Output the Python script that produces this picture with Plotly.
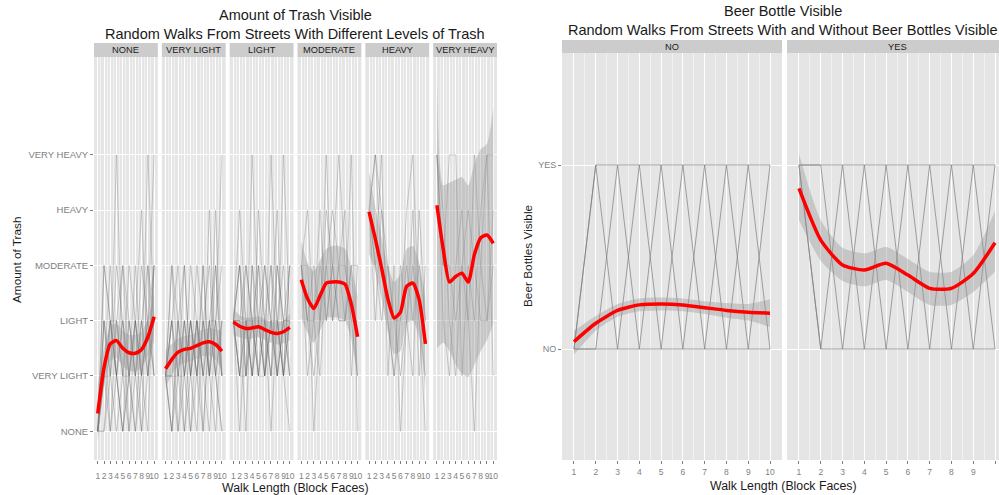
import plotly.graph_objects as go

W, H = 999, 495

# ---------------- data ----------------
steps = [1, 2, 3, 4, 5, 6, 7, 8, 9, 10]
trash_labels = ["NONE", "VERY LIGHT", "LIGHT", "MODERATE", "HEAVY", "VERY HEAVY"]
trash_values = [1, 2, 3, 4, 5, 6]
beer_labels = ["NO", "YES"]
beer_values = [1, 2]

# random walks (trash level at each block face), one list per facet
walks_none = [
    [1, 2, 3, 2, 4, 3, 2, 3, 2, 4], [1, 3, 2, 6, 2, 1, 3, 2, 6, 3],
    [1, 2, 1, 3, 2, 4, 3, 1, 2, 3], [1, 4, 3, 2, 3, 1, 2, 4, 3, 6],
    [1, 1, 2, 4, 3, 2, 1, 2, 3, 2], [1, 2, 4, 2, 1, 3, 2, 3, 4, 3],
    [1, 3, 1, 2, 3, 2, 4, 2, 1, 4], [1, 2, 3, 3, 2, 2, 3, 2, 3, 2],
    [1, 1, 3, 2, 1, 2, 1, 3, 2, 4], [1, 3, 2, 1, 2, 3, 2, 1, 4, 2],
    [1, 2, 2, 3, 4, 2, 3, 5, 2, 3], [1, 4, 3, 2, 1, 2, 3, 2, 3, 4],
]
walks_very_light = [
    [2, 3, 2, 4, 2, 3, 1, 3, 2, 3], [2, 1, 3, 2, 3, 2, 4, 2, 5, 2],
    [2, 3, 4, 2, 1, 3, 2, 3, 2, 1], [2, 2, 1, 3, 2, 4, 3, 2, 3, 6],
    [2, 4, 2, 1, 3, 2, 1, 3, 4, 2], [2, 1, 2, 3, 2, 1, 3, 2, 1, 3],
    [2, 3, 2, 2, 4, 3, 2, 5, 2, 3], [2, 2, 3, 1, 2, 3, 2, 1, 3, 2],
    [2, 4, 3, 2, 3, 2, 3, 4, 2, 1], [2, 1, 3, 4, 2, 3, 2, 3, 3, 2],
    [2, 3, 1, 2, 3, 2, 4, 2, 3, 4], [2, 2, 2, 3, 1, 2, 3, 2, 4, 2],
]
walks_light = [
    [3, 2, 4, 3, 2, 4, 3, 2, 3, 4], [3, 4, 2, 6, 3, 2, 6, 3, 2, 3],
    [3, 1, 3, 2, 4, 3, 2, 4, 3, 2], [3, 3, 2, 4, 3, 2, 3, 2, 6, 3],
    [3, 2, 3, 2, 5, 3, 2, 3, 2, 1], [3, 4, 3, 2, 3, 4, 3, 5, 2, 3],
    [3, 3, 4, 3, 2, 3, 1, 3, 4, 2], [3, 2, 2, 3, 4, 2, 3, 2, 3, 3],
    [3, 5, 3, 2, 3, 3, 4, 3, 2, 4], [3, 3, 1, 4, 2, 3, 2, 4, 3, 2],
    [3, 2, 3, 3, 2, 2, 4, 2, 3, 3], [3, 4, 2, 3, 3, 2, 3, 3, 2, 4],
]
walks_moderate = [
    [4, 3, 2, 3, 6, 3, 4, 5, 2, 4], [4, 3, 4, 3, 4, 5, 4, 3, 6, 1],
    [4, 5, 3, 2, 4, 3, 4, 4, 3, 2], [4, 2, 3, 4, 3, 4, 6, 4, 3, 3],
    [4, 4, 1, 3, 5, 4, 3, 3, 4, 2], [4, 3, 3, 5, 3, 4, 3, 3, 4, 4],
]
walks_heavy = [
    [5, 6, 4, 3, 2, 3, 5, 6, 3, 1], [5, 4, 6, 2, 4, 1, 3, 5, 2, 4],
    [5, 3, 5, 4, 3, 2, 3, 4, 3, 2], [5, 6, 5, 3, 2, 4, 3, 2, 5, 3],
    [5, 4, 3, 4, 3, 3, 4, 3, 4, 3],
]
walks_very_heavy = [
    [6, 4, 6, 6, 2, 4, 3, 5, 6, 6], [6, 3, 2, 4, 5, 3, 1, 4, 6, 2],
    [6, 5, 3, 2, 4, 3, 6, 4, 3, 5], [6, 4, 4, 3, 4, 5, 4, 3, 3, 4],
]

# smoothed mean and confidence band per facet
fit_none = [1.32, 2.15, 2.58, 2.64, 2.50, 2.42, 2.41, 2.48, 2.70, 3.07]
hi_none = [1.82, 2.50, 2.90, 2.95, 2.82, 2.75, 2.74, 2.80, 3.05, 3.52]
lo_none = [0.82, 1.80, 2.26, 2.33, 2.18, 2.09, 2.08, 2.16, 2.35, 2.62]

fit_very_light = [2.13, 2.30, 2.43, 2.48, 2.50, 2.55, 2.60, 2.62, 2.57, 2.45]
hi_very_light = [2.48, 2.58, 2.68, 2.72, 2.74, 2.79, 2.84, 2.87, 2.85, 2.80]
lo_very_light = [1.78, 2.02, 2.18, 2.24, 2.26, 2.31, 2.36, 2.37, 2.29, 2.10]

fit_light = [2.98, 2.90, 2.86, 2.87, 2.89, 2.84, 2.79, 2.77, 2.80, 2.88]
hi_light = [3.22, 3.10, 3.05, 3.06, 3.08, 3.03, 2.98, 2.97, 3.01, 3.12]
lo_light = [2.74, 2.70, 2.67, 2.68, 2.70, 2.65, 2.60, 2.57, 2.59, 2.64]

fit_moderate = [3.74, 3.40, 3.22, 3.45, 3.68, 3.70, 3.70, 3.66, 3.30, 2.71]
hi_moderate = [4.45, 4.05, 3.90, 4.10, 4.30, 4.35, 4.35, 4.30, 3.95, 3.45]
lo_moderate = [3.05, 2.78, 2.60, 2.82, 3.05, 3.06, 3.05, 3.00, 2.65, 1.95]

fit_heavy = [4.97, 4.48, 3.95, 3.40, 3.05, 3.15, 3.62, 3.68, 3.38, 2.58]
hi_heavy = [5.70, 5.05, 4.50, 4.00, 3.70, 3.85, 4.30, 4.35, 4.05, 3.40]
lo_heavy = [4.20, 3.90, 3.40, 2.80, 2.40, 2.45, 2.95, 3.00, 2.70, 1.75]

fit_very_heavy = [5.09, 4.30, 3.70, 3.80, 3.86, 3.70, 4.20, 4.50, 4.55, 4.40]
hi_very_heavy = [7.44, 5.45, 5.50, 5.55, 5.60, 5.45, 5.85, 6.10, 6.20, 6.85]
lo_very_heavy = [2.50, 2.60, 2.45, 2.20, 2.05, 1.98, 2.20, 2.45, 2.65, 2.95]

# beer bottle walks (1 = NO, 2 = YES)
walks_beer_no = [
    [1, 1, 1, 1, 1, 1, 1, 1, 1, 1], [1, 2, 2, 2, 2, 2, 2, 2, 2, 2],
    [1, 2, 1, 2, 1, 2, 1, 2, 1, 2], [1, 1, 2, 1, 2, 1, 2, 1, 2, 1],
]
walks_beer_yes = [
    [2, 2, 2, 2, 2, 2, 2, 2, 2, 2], [2, 1, 1, 1, 1, 1, 1, 1, 1, 1],
    [2, 1, 2, 1, 2, 1, 2, 1, 2, 1], [2, 2, 1, 2, 1, 2, 1, 2, 1, 2],
]
fit_beer_no = [1.04, 1.14, 1.21, 1.24, 1.245, 1.24, 1.225, 1.21, 1.20, 1.195]
hi_beer_no = [1.10, 1.18, 1.245, 1.275, 1.28, 1.275, 1.26, 1.25, 1.245, 1.27]
lo_beer_no = [0.97, 1.10, 1.175, 1.205, 1.21, 1.205, 1.19, 1.17, 1.155, 1.12]

fit_beer_yes = [1.873, 1.592, 1.457, 1.43, 1.466, 1.402, 1.33, 1.33, 1.41, 1.578]
hi_beer_yes = [2.06, 1.70, 1.55, 1.52, 1.555, 1.49, 1.42, 1.42, 1.51, 1.75]
lo_beer_yes = [1.70, 1.48, 1.37, 1.34, 1.375, 1.31, 1.24, 1.24, 1.31, 1.42]

# ---------------- layout helpers ----------------
def px(x):
    return x / W

def py(y):
    return 1 - y / H

FONT = "Liberation Sans, Arial, sans-serif"
GRID_MAJOR = "#FFFFFF"
GRID_MINOR = "#F2F2F2"
TICK_COL = "#7F7F7F"

left_facets = [
    ("NONE", walks_none, fit_none, lo_none, hi_none),
    ("VERY LIGHT", walks_very_light, fit_very_light, lo_very_light, hi_very_light),
    ("LIGHT", walks_light, fit_light, lo_light, hi_light),
    ("MODERATE", walks_moderate, fit_moderate, lo_moderate, hi_moderate),
    ("HEAVY", walks_heavy, fit_heavy, lo_heavy, hi_heavy),
    ("VERY HEAVY", walks_very_heavy, fit_very_heavy, lo_very_heavy, hi_very_heavy),
]
right_facets = [
    ("NO", walks_beer_no, fit_beer_no, lo_beer_no, hi_beer_no),
    ("YES", walks_beer_yes, fit_beer_yes, lo_beer_yes, hi_beer_yes),
]

L_X0, L_X1, L_GAP = 94, 497, 4
L_W = (L_X1 - L_X0 - 5 * L_GAP) / 6
L_TOP, L_BOT = 57, 460
L_STRIP = 43
R_TOP, R_BOT = 53, 460
R_STRIP = 40
R_FACETS = [(562, 782), (787, 999)]
R_UNIT = 220 / 10.1

fig = go.Figure()
layout = dict(
    width=W, height=H, margin=dict(l=0, r=0, t=0, b=0),
    paper_bgcolor="white", plot_bgcolor="#E5E5E5", showlegend=False,
    font=dict(family=FONT, color="#222222"),
)
shapes, annotations = [], []

minor_vals = [v + 0.5 for v in steps[:-1]]


def xaxis_cfg(domain, rng, anchor, fsize, standoff):
    return dict(
        domain=domain, range=rng, anchor=anchor, tickmode="array",
        tickvals=steps, ticktext=[str(s) for s in steps], tickangle=0,
        tickfont=dict(size=fsize, color=TICK_COL, family=FONT),
        ticks="outside", ticklen=3, tickcolor=TICK_COL, tickwidth=1,
        ticklabelstandoff=standoff,
        showgrid=True, gridcolor=GRID_MAJOR, gridwidth=1, zeroline=False,
        showline=False, fixedrange=True,
        minor=dict(tickmode="array", tickvals=minor_vals, showgrid=True,
                   gridcolor=GRID_MINOR, gridwidth=0.6, ticks=""),
    )


def add_facet(xa, ya, walks, fit, lo, hi, walk_color, walk_width):
    for w in walks:
        fig.add_trace(go.Scatter(x=steps, y=w, mode="lines", xaxis=xa, yaxis=ya,
                                 line=dict(color=walk_color, width=walk_width),
                                 hoverinfo="skip"))
    fig.add_trace(go.Scatter(x=steps, y=lo, mode="lines", xaxis=xa, yaxis=ya,
                             line=dict(width=0, shape="spline", smoothing=0.6),
                             hoverinfo="skip"))
    fig.add_trace(go.Scatter(x=steps, y=hi, mode="lines", xaxis=xa, yaxis=ya,
                             fill="tonexty", fillcolor="rgba(153,153,153,0.4)",
                             line=dict(width=0, shape="spline", smoothing=0.6),
                             hoverinfo="skip"))
    fig.add_trace(go.Scatter(x=steps, y=fit, mode="lines", xaxis=xa, yaxis=ya,
                             line=dict(color="#FF0000", width=3.5, shape="spline", smoothing=0.6),
                             hoverinfo="skip"))


def text(t, x, y, size, angle=0, color="#1A1A1A"):
    annotations.append(dict(text=t, xref="paper", yref="paper", x=px(x), y=py(y),
                            xanchor="center", yanchor="middle",
                            showarrow=False, textangle=angle,
                            font=dict(size=size, color=color, family=FONT)))


# ---- left: amount of trash ----
for i, (name, walks, fit, lo, hi) in enumerate(left_facets):
    x0 = L_X0 + i * (L_W + L_GAP)
    x1 = x0 + L_W
    key = "xaxis" if i == 0 else f"xaxis{i + 1}"
    xa = "x" if i == 0 else f"x{i + 1}"
    layout[key] = xaxis_cfg([px(x0), px(x1)], [0.4, 10.6], "y", 8.5, 5)
    add_facet(xa, "y", walks, fit, lo, hi, "rgba(95,95,95,0.28)", 1)
    shapes.append(dict(type="rect", xref="paper", yref="paper", x0=px(x0), x1=px(x1),
                       y0=py(L_TOP), y1=py(L_STRIP), fillcolor="#CCCCCC", line=dict(width=0)))
    text(name, (x0 + x1) / 2, (L_TOP + L_STRIP) / 2, 9.3)

layout["yaxis"] = dict(
    domain=[py(L_BOT), py(L_TOP)], range=[0.48, 7.77], anchor="x", tickmode="array",
    tickvals=trash_values, ticktext=trash_labels,
    tickfont=dict(size=9.5, color=TICK_COL, family=FONT), ticks="outside", ticklen=3,
    tickcolor=TICK_COL, showgrid=True, gridcolor=GRID_MAJOR, gridwidth=1.2,
    zeroline=False, showline=False, fixedrange=True,
)

# ---- right: beer bottles ----
for j, (name, walks, fit, lo, hi) in enumerate(right_facets):
    x0, x1 = R_FACETS[j]
    idx = 7 + j
    rng = [0.45, 0.45 + (x1 - x0) / R_UNIT]
    layout[f"xaxis{idx}"] = xaxis_cfg([px(x0), px(x1)], rng, "y2", 8.5, 1)
    add_facet(f"x{idx}", "y2", walks, fit, lo, hi, "rgba(125,125,125,0.7)", 1)
    shapes.append(dict(type="rect", xref="paper", yref="paper", x0=px(x0), x1=px(x1),
                       y0=py(R_TOP), y1=py(R_STRIP), fillcolor="#CCCCCC", line=dict(width=0)))
    text(name, x0 + 110, (R_TOP + R_STRIP) / 2, 9.3)

layout["yaxis2"] = dict(
    domain=[py(R_BOT), py(R_TOP)], range=[0.397, 2.609], anchor="x7", tickmode="array",
    tickvals=beer_values, ticktext=beer_labels,
    tickfont=dict(size=9, color=TICK_COL, family=FONT), ticks="outside", ticklen=3,
    tickcolor=TICK_COL, showgrid=True, gridcolor=GRID_MAJOR, gridwidth=1.2,
    zeroline=False, showline=False, fixedrange=True,
)

# ---- titles ----
text("Amount of Trash Visible", 295, 15, 14.5)
text("Random Walks From Streets With Different Levels of Trash", 295, 34, 14.5)
text("Walk Length (Block Faces)", 295, 488, 12.3)
text("Amount of Trash", 17, 260, 11.8, angle=-90)

text("Beer Bottle Visible", 783, 11, 14.5)
text("Random Walks From Streets With and Without Beer Bottles Visible", 783, 30, 14.5)
text("Walk Length (Block Faces)", 783, 486, 12.3)
text("Beer Bottles Visible", 528, 256, 11.8, angle=-90)

layout["shapes"] = shapes
layout["annotations"] = annotations
fig.update_layout(**layout)
fig.write_html("out.html")
